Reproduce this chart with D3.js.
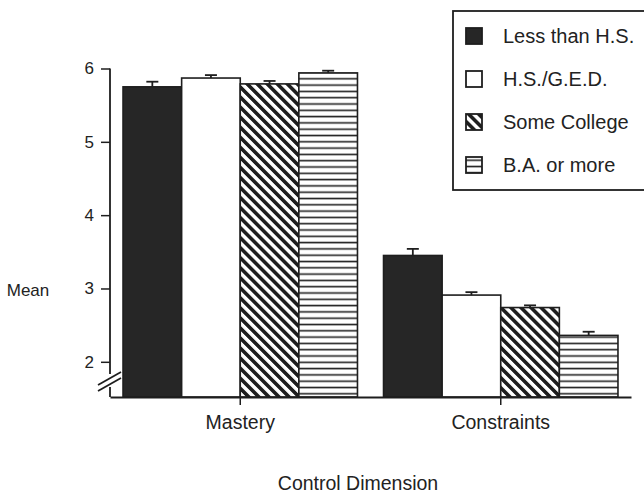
<!DOCTYPE html>
<html>
<head>
<meta charset="utf-8">
<script src="https://cdn.jsdelivr.net/npm/d3@7"></script>
<style>
  body { margin: 0; background: #fff; }
  svg text { font-family: "Liberation Sans", Arial, Helvetica, sans-serif; fill: #222; }
</style>
</head>
<body>
<div id="chart"></div>
<script>
// data
const categories = ["Mastery", "Constraints"];
const groups = ["Less than H.S.", "H.S./G.E.D.", "Some College", "B.A. or more"];
const lessHS = [5.75, 3.45];
const hsGed = [5.87, 2.91];
const someCollege = [5.79, 2.74];
const baMore = [5.94, 2.36];
const lessHSErr = [0.07, 0.09];
const hsGedErr = [0.04, 0.04];
const someCollegeErr = [0.04, 0.03];
const baMoreErr = [0.03, 0.05];
const yTicks = [2, 3, 4, 5, 6];

const values = [lessHS, hsGed, someCollege, baMore];
const errors = [lessHSErr, hsGedErr, someCollegeErr, baMoreErr];

const width = 644, height = 494;

const svg = d3.select("#chart").append("svg")
    .attr("width", width)
    .attr("height", height);

// patterns
const defs = svg.append("defs");
const diag = defs.append("pattern")
    .attr("id", "diag")
    .attr("patternUnits", "userSpaceOnUse")
    .attr("width", 7.1)
    .attr("height", 7.1)
    .attr("patternTransform", "rotate(-45)");
diag.append("rect").attr("width", 7.1).attr("height", 7.1).attr("fill", "#fff");
diag.append("rect").attr("width", 3.6).attr("height", 7.1).attr("fill", "#1e1e1e");

const horiz = defs.append("pattern")
    .attr("id", "horiz")
    .attr("patternUnits", "userSpaceOnUse")
    .attr("width", 10)
    .attr("height", 6.3);
horiz.append("rect").attr("width", 10).attr("height", 6.3).attr("fill", "#fff");
horiz.append("rect").attr("y", 2.4).attr("width", 10).attr("height", 1.6).attr("fill", "#222");

const fills = ["#262626", "#fff", "url(#diag)", "url(#horiz)"];

// scales
const x0 = d3.scaleBand()
    .domain(categories)
    .range([110, 631])
    .paddingInner(0.1)
    .paddingOuter(0.05);

const x1 = d3.scaleBand()
    .domain(groups)
    .range([0, x0.bandwidth()]);

const y = d3.scaleLinear()
    .domain([1.52, 6])
    .range([397, 68.5]);

// bars
const rows = [];
categories.forEach((c, ci) => {
  groups.forEach((g, gi) => {
    rows.push({cat: c, group: g, gi: gi, value: values[gi][ci], err: errors[gi][ci]});
  });
});

const bars = svg.append("g");
bars.selectAll("rect")
  .data(rows)
  .join("rect")
    .attr("x", d => x0(d.cat) + x1(d.group))
    .attr("y", d => y(d.value))
    .attr("width", x1.bandwidth())
    .attr("height", d => y.range()[0] - y(d.value))
    .attr("fill", d => fills[d.gi])
    .attr("stroke", "#1e1e1e")
    .attr("stroke-width", 1.6);

// error bars (upper only)
const eb = svg.append("g").attr("stroke", "#1e1e1e").attr("stroke-width", 1.8);
eb.selectAll("line.v")
  .data(rows)
  .join("line")
    .attr("class", "v")
    .attr("x1", d => x0(d.cat) + x1(d.group) + x1.bandwidth() / 2)
    .attr("x2", d => x0(d.cat) + x1(d.group) + x1.bandwidth() / 2)
    .attr("y1", d => y(d.value))
    .attr("y2", d => y(d.value + d.err));
eb.selectAll("line.cap")
  .data(rows)
  .join("line")
    .attr("class", "cap")
    .attr("x1", d => x0(d.cat) + x1(d.group) + x1.bandwidth() / 2 - 6)
    .attr("x2", d => x0(d.cat) + x1(d.group) + x1.bandwidth() / 2 + 6)
    .attr("y1", d => y(d.value + d.err))
    .attr("y2", d => y(d.value + d.err));

// x axis
const xAxis = svg.append("g")
    .attr("transform", "translate(0,397)")
    .call(d3.axisBottom(x0).tickSize(8).tickSizeOuter(0).tickPadding(10));
xAxis.select(".domain").attr("stroke", "#1e1e1e").attr("stroke-width", 1.8);
xAxis.selectAll(".tick line").attr("stroke", "#1e1e1e").attr("stroke-width", 1.5);
xAxis.selectAll(".tick text")
    .attr("font-size", "19.5px")
    .attr("fill", "#222")
    .attr("font-family", "Liberation Sans, Arial, sans-serif");

// y axis
const yAxis = svg.append("g")
    .attr("transform", "translate(110,0)")
    .call(d3.axisLeft(y).tickValues(yTicks).tickFormat(d3.format("d")).tickSize(9).tickPadding(7));
yAxis.select(".domain").remove();
yAxis.selectAll(".tick line").attr("stroke", "#1e1e1e").attr("stroke-width", 1.5);
yAxis.selectAll(".tick text")
    .attr("font-size", "17px")
    .attr("fill", "#222")
    .attr("font-family", "Liberation Sans, Arial, sans-serif");

// y axis line with break
const yl = svg.append("g").attr("stroke", "#1e1e1e").attr("stroke-width", 1.8).attr("fill", "none");
yl.append("line").attr("x1", 110).attr("x2", 110).attr("y1", y(6)).attr("y2", 374);
yl.append("line").attr("x1", 110).attr("x2", 110).attr("y1", 387).attr("y2", 397);
yl.append("line").attr("x1", 98).attr("y1", 385).attr("x2", 121).attr("y2", 372);
yl.append("line").attr("x1", 98).attr("y1", 391).attr("x2", 121).attr("y2", 378);

// axis titles
svg.append("text")
    .attr("x", 28)
    .attr("y", 296)
    .attr("text-anchor", "middle")
    .attr("font-size", "17px")
    .text("Mean");

svg.append("text")
    .attr("x", 358)
    .attr("y", 490)
    .attr("text-anchor", "middle")
    .attr("font-size", "19.5px")
    .text("Control Dimension");

// legend
const legend = svg.append("g");
legend.append("rect")
    .attr("x", 453)
    .attr("y", 11)
    .attr("width", 200)
    .attr("height", 179)
    .attr("fill", "#fff")
    .attr("stroke", "#1e1e1e")
    .attr("stroke-width", 1.8);

const item = legend.selectAll("g.item")
  .data(groups)
  .join("g")
    .attr("class", "item")
    .attr("transform", (d, i) => `translate(466,${28 + i * 43})`);

item.append("rect")
    .attr("width", 16)
    .attr("height", 16)
    .attr("fill", (d, i) => fills[i])
    .attr("stroke", "#1e1e1e")
    .attr("stroke-width", 1.8);

item.append("text")
    .attr("x", 37)
    .attr("y", 15)
    .attr("font-size", "20px")
    .text(d => d);
</script>
</body>
</html>
